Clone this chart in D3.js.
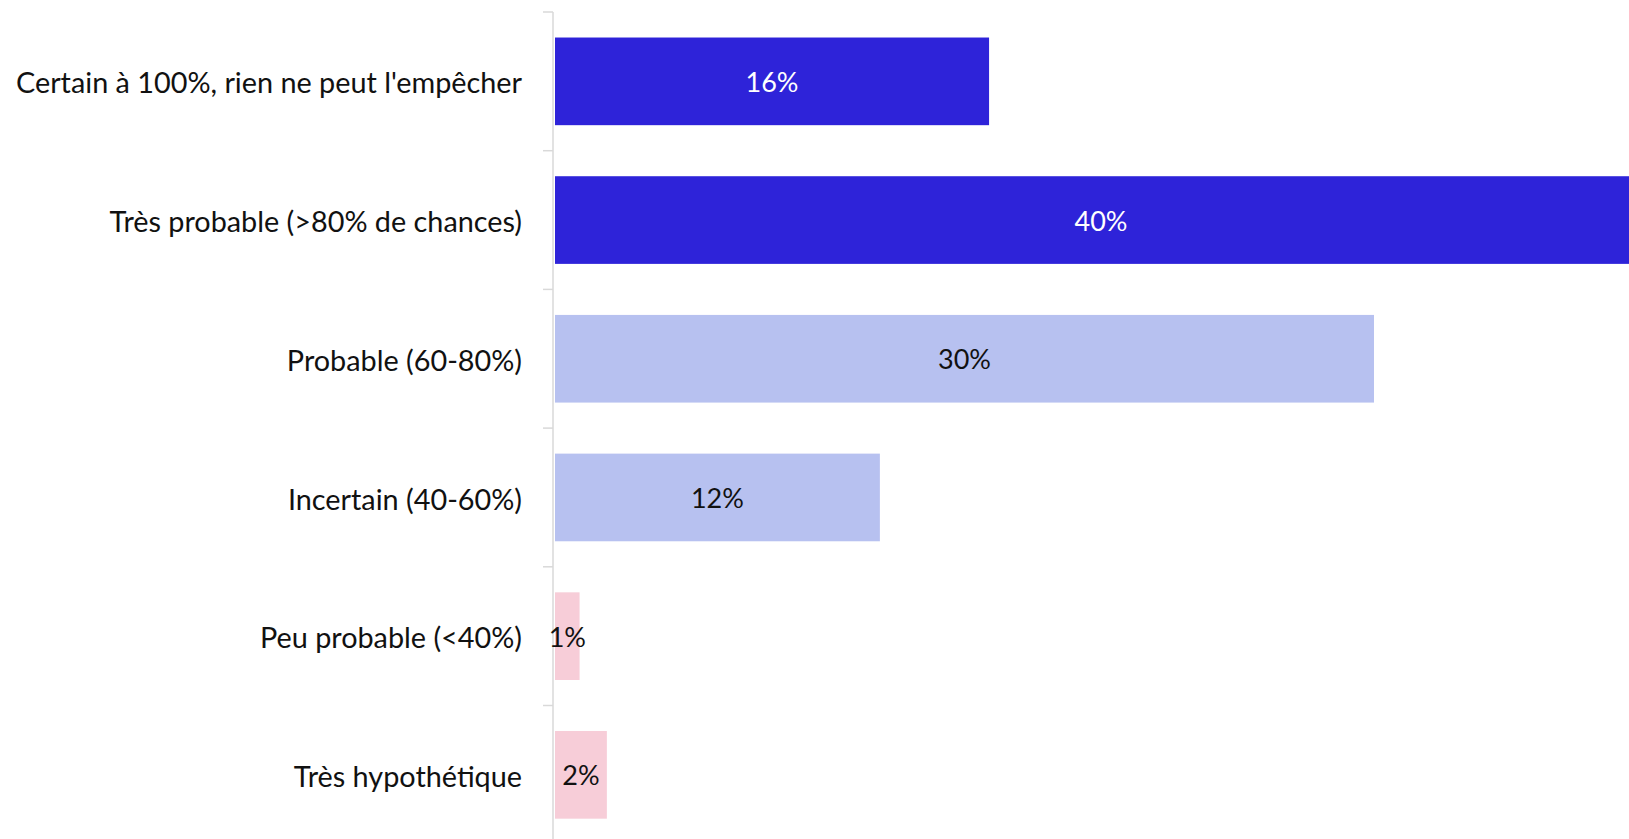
<!DOCTYPE html>
<html>
<head>
<meta charset="utf-8">
<script src="https://cdn.jsdelivr.net/npm/d3@7"></script>
<style>
  html, body { margin: 0; padding: 0; background: #ffffff; }
  svg { display: block; }
</style>
</head>
<body>
<svg id="chart" width="1629" height="839"></svg>
<script>
const categories = [
  "Certain à 100%, rien ne peut l'empêcher",
  "Très probable (>80% de chances)",
  "Probable (60-80%)",
  "Incertain (40-60%)",
  "Peu probable (<40%)",
  "Très hypothétique"
];
const values = [15.9, 40.0, 30.0, 11.9, 0.9, 1.9];
const barColors = ["#2e23d9", "#2e23d9", "#b7c1f0", "#b7c1f0", "#f7cdd8", "#f7cdd8"];
const labelColors = ["#ffffff", "#ffffff", "#111111", "#111111", "#111111", "#111111"];

const svg = d3.select("#chart");
const W = 1629, H = 839;

const axisX = 553;
const plotTop = 12;
const step = 138.7;
const pad = 0.368;

const y = d3.scaleBand()
  .domain(categories)
  .range([plotTop, plotTop + step * categories.length])
  .paddingInner(pad)
  .paddingOuter(pad / 2);

const x = d3.scaleLinear()
  .domain([0, 40])
  .range([555, 555 + 40 * 27.3]);

// bars
svg.append("g").selectAll("rect")
  .data(categories)
  .join("rect")
  .attr("x", x(0))
  .attr("y", d => y(d))
  .attr("width", (d, i) => x(values[i]) - x(0))
  .attr("height", y.bandwidth())
  .attr("fill", (d, i) => barColors[i]);

// axis line and ticks
const axisG = svg.append("g");
axisG.append("line")
  .attr("x1", axisX).attr("x2", axisX)
  .attr("y1", plotTop).attr("y2", H)
  .attr("stroke", "#d9d9d9").attr("stroke-width", 1.5);
const tickYs = d3.range(categories.length + 1).map(i => y.range()[0] + i * y.step());
axisG.selectAll("line.tick")
  .data(tickYs)
  .join("line")
  .attr("class", "tick")
  .attr("x1", axisX - 10).attr("x2", axisX)
  .attr("y1", d => d).attr("y2", d => d)
  .attr("stroke", "#d9d9d9").attr("stroke-width", 1.5);

// category labels
svg.append("g").selectAll("text")
  .data(categories)
  .join("text")
  .attr("x", 522)
  .attr("y", d => y(d) + y.bandwidth() / 2 + 2)
  .attr("dy", "0.35em")
  .attr("text-anchor", "end")
  .attr("font-family", "Lato, 'Noto Sans', sans-serif")
  .attr("font-size", 28.8)
  .attr("fill", "#111111")
  .text(d => d);

// value labels
svg.append("g").selectAll("text")
  .data(categories)
  .join("text")
  .attr("x", (d, i) => (x(0) + x(values[i])) / 2)
  .attr("y", d => y(d) + y.bandwidth() / 2 + 1)
  .attr("dy", "0.35em")
  .attr("text-anchor", "middle")
  .attr("font-family", "Lato, 'Noto Sans', sans-serif")
  .attr("font-size", 27)
  .attr("fill", (d, i) => labelColors[i])
  .text((d, i) => Math.round(values[i]) + "%");
</script>
</body>
</html>
